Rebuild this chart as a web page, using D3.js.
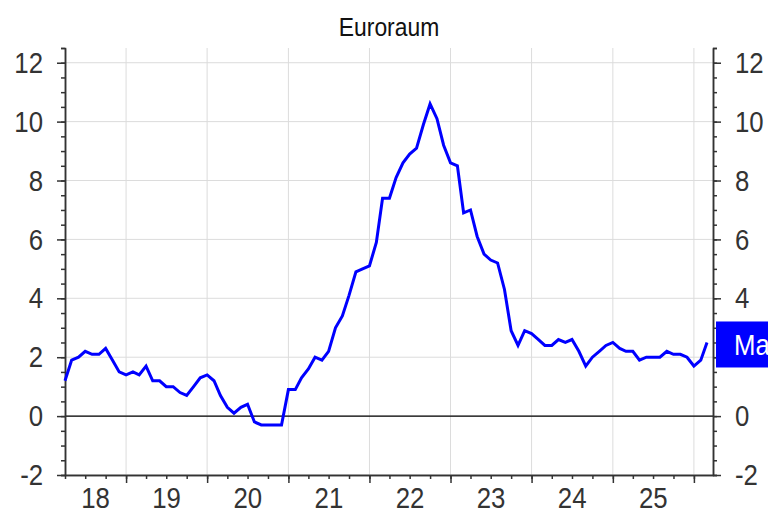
<!DOCTYPE html>
<html>
<head>
<meta charset="utf-8">
<title>Euroraum</title>
<script src="https://cdn.jsdelivr.net/npm/d3@7"></script>
<style>
    body { margin: 0; background: #fff; }
    #chart text { font-family: 'Liberation Sans', Arial, sans-serif; }
</style>
</head>
<body>
<div id="chart"></div>
<script>
// Inflation Euroraum (HICP, % ggü. Vorjahr) - monthly values, first month = April 2018

var chartTitle = "Euroraum";
var firstMonth = [2018, 3];     // year, month index (0 = Jan)
var lastLabel = "Mar 26";

var inflation = [
    1.2, 1.9, 2.0, 2.2, 2.1, 2.1, 2.3, 1.9, 1.5,                 // 2018 Apr-Dec
    1.4, 1.5, 1.4, 1.7, 1.2, 1.2, 1.0, 1.0, 0.8, 0.7, 1.0, 1.3,  // 2019
    1.4, 1.2, 0.7, 0.3, 0.1, 0.3, 0.4, -0.2, -0.3, -0.3, -0.3, -0.3, // 2020
    0.9, 0.9, 1.3, 1.6, 2.0, 1.9, 2.2, 3.0, 3.4, 4.1, 4.9, 5.0,  // 2021
    5.1, 5.9, 7.4, 7.4, 8.1, 8.6, 8.9, 9.1, 9.9, 10.6, 10.1, 9.2, // 2022
    8.6, 8.5, 6.9, 7.0, 6.1, 5.5, 5.3, 5.2, 4.3, 2.9, 2.4, 2.9,  // 2023
    2.8, 2.6, 2.4, 2.4, 2.6, 2.5, 2.6, 2.2, 1.7, 2.0, 2.2, 2.4,  // 2024
    2.5, 2.3, 2.2, 2.2, 1.9, 2.0, 2.0, 2.0, 2.2, 2.1, 2.1, 2.0,  // 2025
    1.7, 1.9, 2.5                                                // 2026 Jan-Mar
];

var yTicks = [-2, 0, 2, 4, 6, 8, 10, 12];
var yearLabels = ["18", "19", "20", "21", "22", "23", "24", "25"];


/*
 *  lineChart - Object constructor function
 *  @param _parentElement   -- HTML element in which to draw the visualization
 *  @param _data            -- Array with {date, value}
 */

lineChart = function(_parentElement, _data) {
    this.parentElement = _parentElement;
    this.data = _data;

    this.initVis();
}


/*
 *  Initialize Vis
 */

lineChart.prototype.initVis = function() {
    var vis = this;

    // * svg
    vis.width = 768;
    vis.height = 527;
    vis.margin = {top: 48, right: 55, bottom: 52, left: 65};

    // no narrow font installed -> squeeze Liberation Sans horizontally
    vis.narrow = 0.86;

    vis.svg = d3.select(vis.parentElement).append("svg")
        .attr("width", vis.width)
        .attr("height", vis.height);

    vis.svg.append("rect")
        .attr("width", vis.width)
        .attr("height", vis.height)
        .attr("fill", "#fff");

    // * scales
    vis.x = d3.scaleTime()
        .domain([new Date(2018, 3, 1), new Date(2026, 2, 28)])
        .range([vis.margin.left, vis.width - vis.margin.right]);

    vis.y = d3.scaleLinear()
        .domain([-2, 12.5])
        .range([vis.height - vis.margin.bottom, vis.margin.top]);

    vis.updateVis();
}


/*
 *  UpdateVis
 */

lineChart.prototype.updateVis = function() {
    var vis = this;
    var x = vis.x, y = vis.y;
    var x0 = x.range()[0], x1 = x.range()[1];
    var y0 = y.range()[0], y1 = y.range()[1];

    var years = d3.timeYear.range(d3.timeYear.ceil(x.domain()[0]), x.domain()[1]);
    var quarters = d3.timeMonth.every(3).range(x.domain()[0], x.domain()[1]);
    var halfSteps = d3.range(-2, 12.51, 0.5);

    // plain hyphen for negatives, like the original
    var fmt = function(d) { return d < 0 ? "-" + Math.abs(d) : "" + d; };

    // squeezed text at (px, py)
    function narrowText(g, px, py, size, str, anchor, s) {
        return g.append("text")
            .attr("transform", "translate(" + px + "," + py + ") scale(" + (s || vis.narrow) + ",1)")
            .attr("text-anchor", anchor || "start")
            .style("font-size", size + "px")
            .text(str);
    }

    // gridlines
    vis.svg.append("g").selectAll("line")
        .data(yTicks)
        .enter().append("line")
            .attr("x1", x0).attr("x2", x1)
            .attr("y1", function(d) { return y(d); })
            .attr("y2", function(d) { return y(d); })
            .attr("stroke", "#dcdcdc")
            .attr("stroke-width", 1);

    vis.svg.append("g").selectAll("line")
        .data(years)
        .enter().append("line")
            .attr("x1", function(d) { return x(d); })
            .attr("x2", function(d) { return x(d); })
            .attr("y1", y1).attr("y2", y0)
            .attr("stroke", "#dcdcdc")
            .attr("stroke-width", 1);

    // zero line
    vis.svg.append("line")
        .attr("x1", x0).attr("x2", x1)
        .attr("y1", y(0)).attr("y2", y(0))
        .attr("stroke", "#000")
        .attr("stroke-width", 1.2);

    // * axes (minor ticks first, then major ticks with labels)
    var axisColor = "#333";

    function styleAxis(g) {
        g.select(".domain").attr("stroke", axisColor).attr("stroke-width", 1.5);
        g.selectAll(".tick line").attr("stroke", axisColor).attr("stroke-width", 1.5);
        g.selectAll(".tick text")
            .attr("fill", axisColor)
            .attr("transform", "scale(" + vis.narrow + ",1)")
            .style("font-size", "30px");
    }

    // left
    vis.svg.append("g")
        .attr("transform", "translate(" + x0 + ",0)")
        .call(d3.axisLeft(y).tickValues(halfSteps).tickSize(4).tickFormat(""))
        .call(styleAxis);
    vis.svg.append("g")
        .attr("transform", "translate(" + x0 + ",0)")
        .call(d3.axisLeft(y).tickValues(yTicks).tickSize(8).tickPadding(17.5).tickSizeOuter(0).tickFormat(fmt))
        .call(styleAxis);

    // right
    vis.svg.append("g")
        .attr("transform", "translate(" + x1 + ",0)")
        .call(d3.axisRight(y).tickValues(halfSteps).tickSize(4).tickFormat(""))
        .call(styleAxis);
    vis.svg.append("g")
        .attr("transform", "translate(" + x1 + ",0)")
        .call(d3.axisRight(y).tickValues(yTicks).tickSize(8).tickPadding(17.5).tickSizeOuter(0).tickFormat(fmt))
        .call(styleAxis);

    // bottom
    vis.svg.append("g")
        .attr("transform", "translate(0," + y0 + ")")
        .call(d3.axisBottom(x).tickValues(quarters).tickSize(4).tickFormat("").tickSizeOuter(0))
        .call(styleAxis);
    vis.svg.append("g")
        .attr("transform", "translate(0," + y0 + ")")
        .call(d3.axisBottom(x).tickValues(years).tickSize(8).tickFormat("").tickSizeOuter(0))
        .call(styleAxis);

    // year labels, centred on the visible part of each year
    var labelYears = d3.timeYear.range(d3.timeYear.floor(x.domain()[0]), x.domain()[1]).slice(0, yearLabels.length);
    var xLabels = vis.svg.append("g").attr("fill", axisColor);
    labelYears.forEach(function(d, i) {
        var a = Math.max(x(d), x0);
        var b = Math.min(x(d3.timeYear.offset(d, 1)), x1);
        narrowText(xLabels, (a + b) / 2, y0 + 33, 30, yearLabels[i], "middle");
    });

    // * line
    var line = d3.line()
        .x(function(d) { return x(d.date); })
        .y(function(d) { return y(d.value); });

    vis.svg.append("path")
        .datum(vis.data)
        .attr("d", line)
        .attr("fill", "none")
        .attr("stroke", "#0000ff")
        .attr("stroke-width", 3);

    // * last value marker on the right axis
    var last = vis.data[vis.data.length - 1];
    vis.svg.append("rect")
        .attr("x", x1 + 3)
        .attr("y", y(last.value) - 21)
        .attr("width", 60)
        .attr("height", 46)
        .attr("fill", "#0000ff");

    narrowText(vis.svg, x1 + 21, y(last.value) + 13, 30, lastLabel)
        .attr("fill", "#fff");

    // * title
    narrowText(vis.svg, (x0 + x1) / 2, 36, 26, chartTitle, "middle", 0.88)
        .attr("fill", "#111");
}


var series = inflation.map(function(v, i) {
    return {date: new Date(firstMonth[0], firstMonth[1] + i, 1), value: v};
});

var chart = new lineChart("#chart", series);
</script>
</body>
</html>
